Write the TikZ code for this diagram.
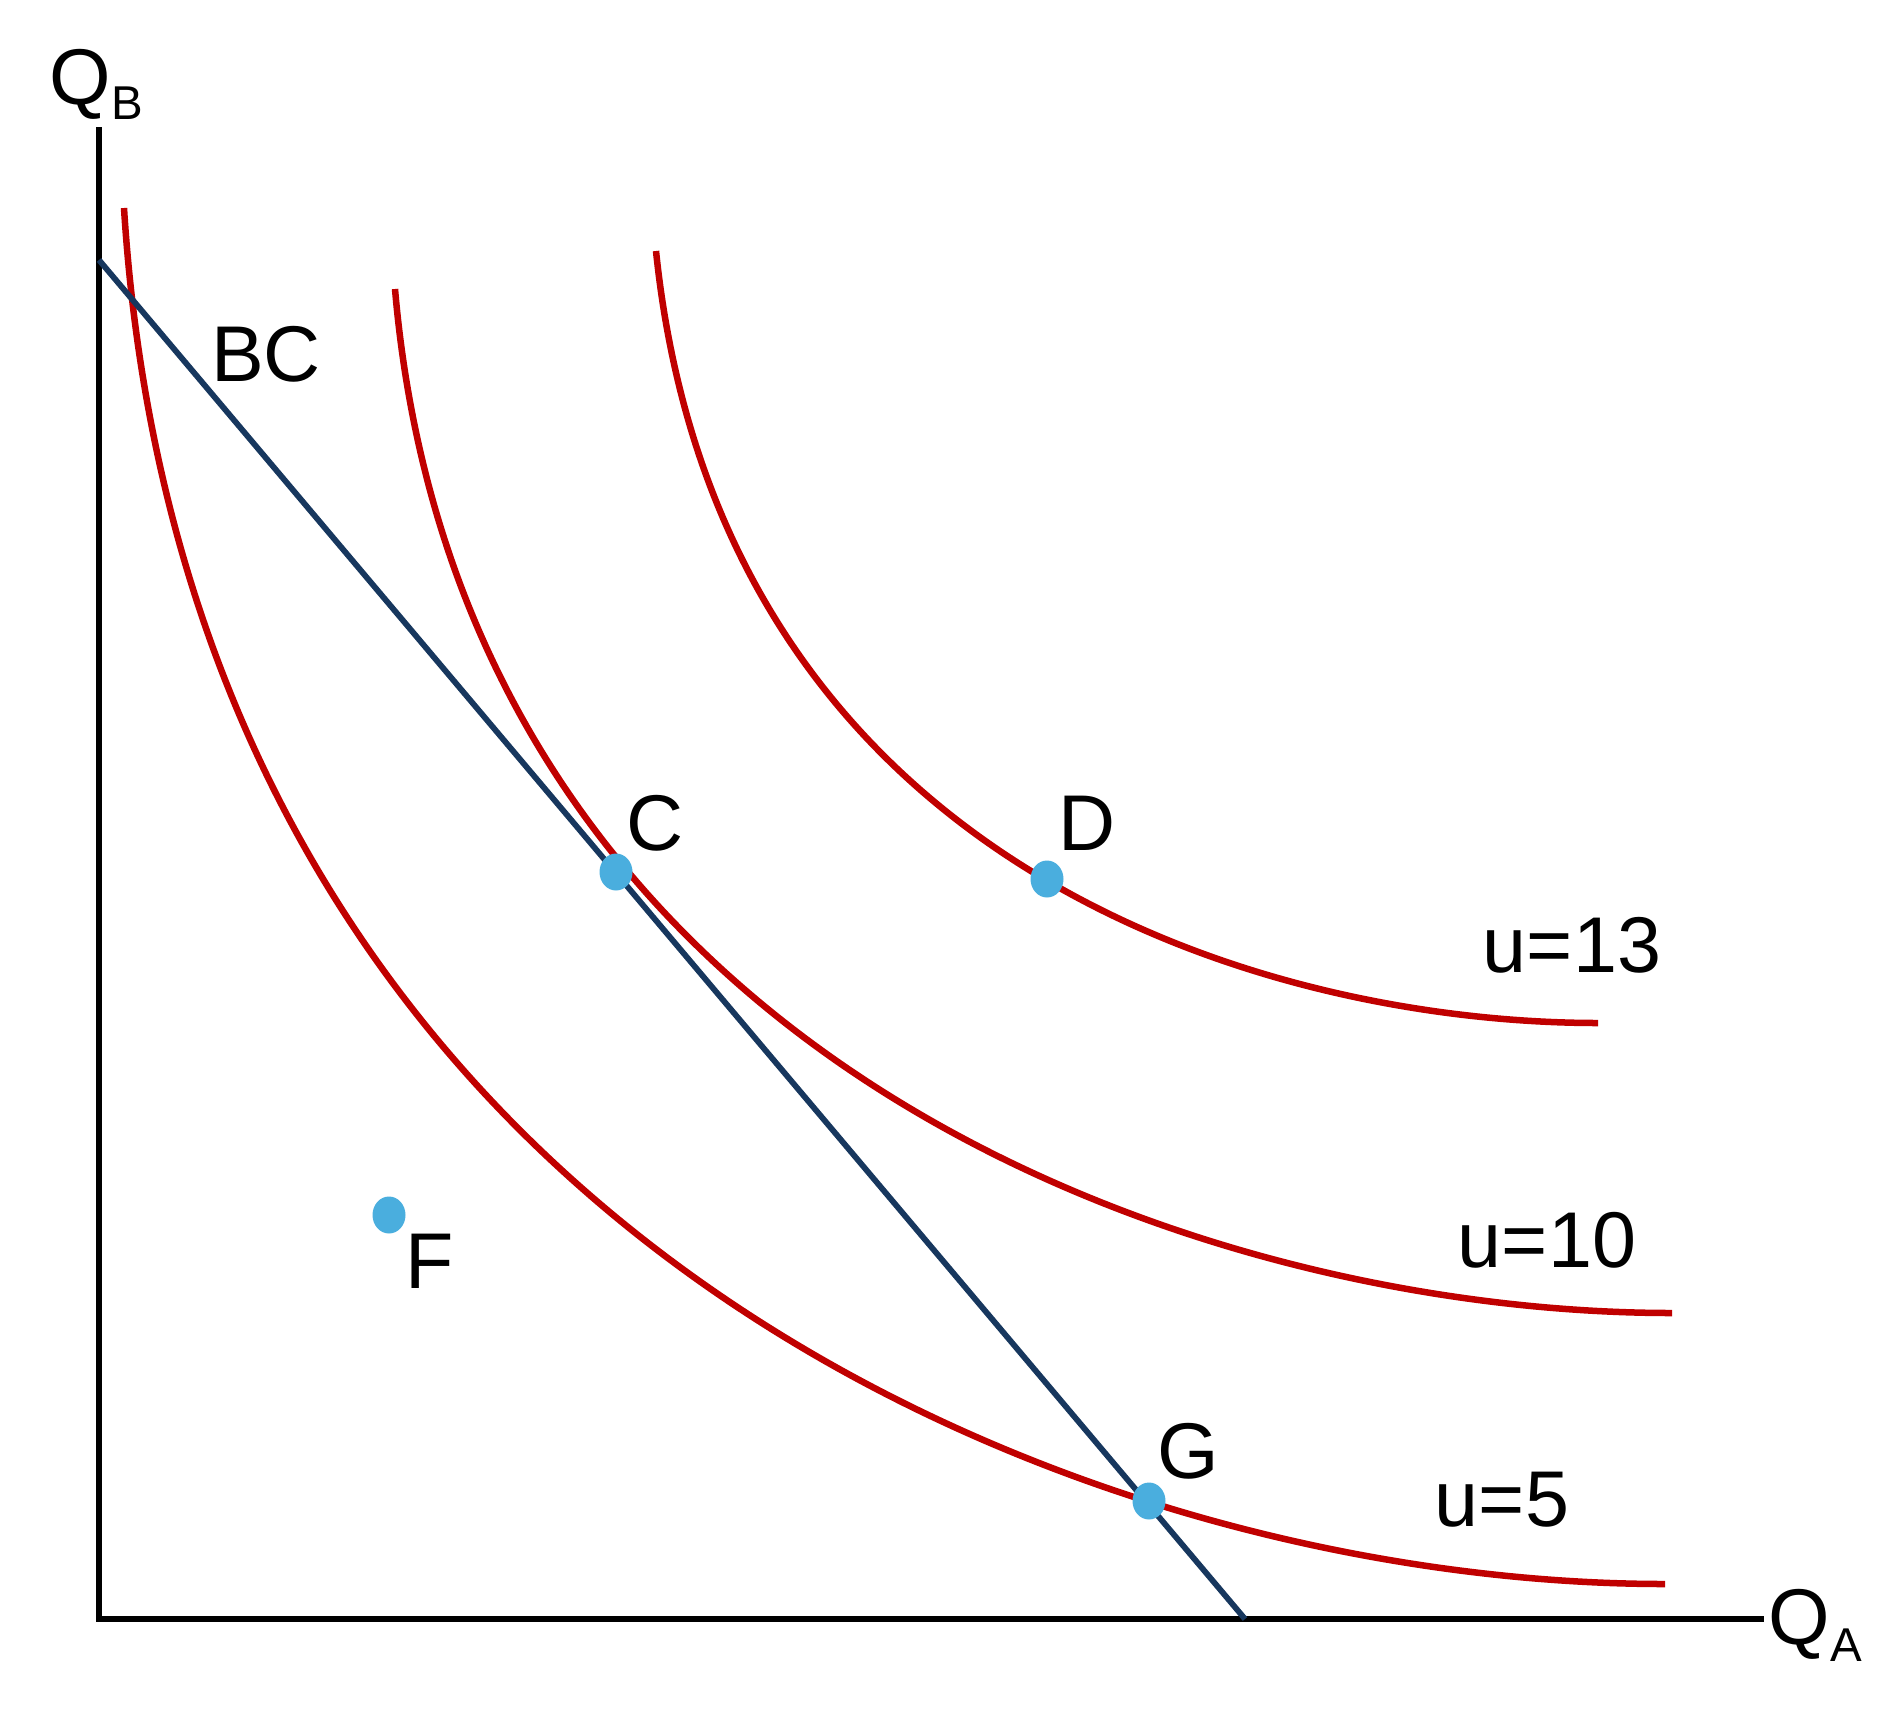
\documentclass[tikz,border=0pt]{standalone}
\usepackage{fontspec}
\setmainfont{Liberation Sans}
\usetikzlibrary{shapes.geometric}
\definecolor{icred}{RGB}{192,0,0}
\definecolor{bcblue}{RGB}{23,55,94}
\definecolor{dotblue}{RGB}{74,174,222}
\begin{document}
\begin{tikzpicture}[x=0.1mm,y=-0.1mm,
  axis/.style={line width=1.85pt, black},
  icurve/.style={line width=1.85pt, icred},
  bcline/.style={line width=1.65pt, bcblue},
  dot/.style={ellipse, fill=dotblue, inner sep=0pt, minimum width=3.3mm, minimum height=3.7mm},
  lbl/.style={inner sep=0pt, font=\fontsize{22.5}{27}\selectfont}]
\useasboundingbox (0,0) rectangle (1895,1716);
% axes
\coordinate (ytop) at (99,127);
\coordinate (origin) at (99,1619);
\coordinate (xend) at (1764,1619);
\draw[axis] (ytop) -- (origin) -- (xend);
\node[lbl, anchor=base west] (QB) at (49,104) {Q\raisebox{-4.5pt}{\fontsize{13.5}{16}\selectfont B}};
\node[lbl, anchor=base west] (QA) at (1768,1644) {Q\raisebox{-5pt}{\fontsize{13.5}{16}\selectfont A}};
% indifference curves
\coordinate (u5s) at (124,208);
\coordinate (u5e) at (1665,1584);
\coordinate (u10s) at (395,289);
\coordinate (u10e) at (1672,1313);
\coordinate (u13s) at (656,251);
\coordinate (u13e) at (1598,1023);
\draw[icurve] (u5s) .. controls (189,1240) and (1087,1584) .. (u5e);
\draw[icurve] (u10s) .. controls (461,1057) and (1193,1313) .. (u10e);
\draw[icurve] (u13s) .. controls (720,869) and (1268,1023) .. (u13e);
% budget constraint
\coordinate (bcA) at (99,260);
\coordinate (bcB) at (1245,1619);
\draw[bcline] (bcA) -- (bcB);
% points
\node[dot] (C) at (616,872) {};
\node[dot] (D) at (1047,879) {};
\node[dot] (F) at (389,1215) {};
\node[dot] (G) at (1149,1501) {};
% labels
\node[lbl] (BClbl) at (266,354) {BC};
\node[lbl] (Clbl) at (655,823) {C};
\node[lbl] (Dlbl) at (1087,823) {D};
\node[lbl] (Flbl) at (430,1261) {F};
\node[lbl] (Glbl) at (1188,1451) {G};
\node[lbl] (u13) at (1572,945) {u=13};
\node[lbl] (u10) at (1547,1240) {u=10};
\node[lbl] (u5) at (1502,1500) {u=5};
\end{tikzpicture}
\end{document}
